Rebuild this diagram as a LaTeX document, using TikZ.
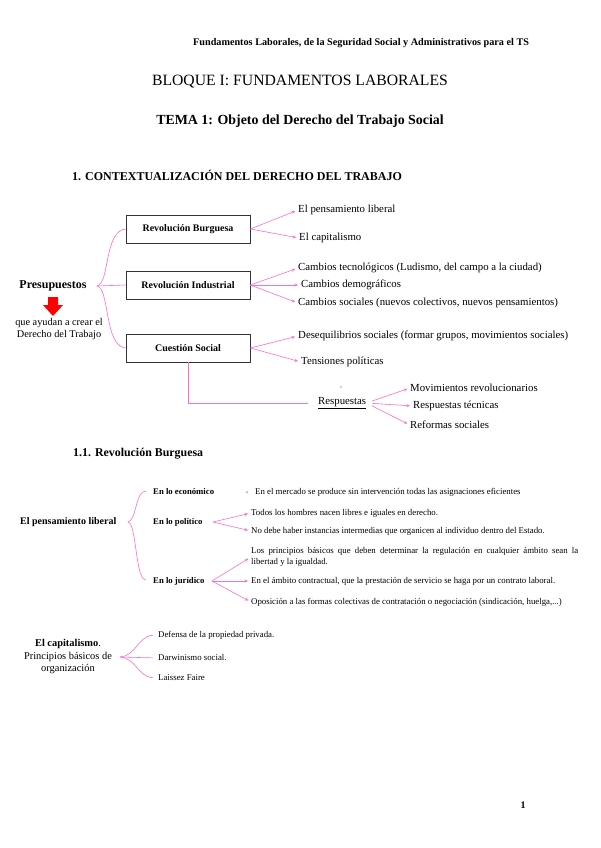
\documentclass[tikz,border=0pt]{standalone}
\usepackage{fontspec}
\setmainfont{Liberation Serif}
\usetikzlibrary{arrows.meta}
\tikzset{>={Stealth[length=3.5pt,width=3pt]}}
\usepackage{xcolor}
\definecolor{rosa}{RGB}{255,110,200}
\definecolor{rojo}{RGB}{255,0,0}
\tikzset{
  linea/.style={draw=rosa, line width=0.6pt},
  flecha/.style={linea, ->, shorten >=3pt},
  caja/.style={draw=black!80, line width=0.8pt, minimum width=124pt, minimum height=28pt,
    inner sep=0pt, font=\bfseries\fontsize{10}{12}\selectfont},
  txt/.style={anchor=west, inner sep=0pt, font=\fontsize{10.8}{12}\selectfont},
  peq/.style={anchor=west, inner sep=0pt, font=\fontsize{8.8}{10.5}\selectfont},
  peqb/.style={anchor=west, inner sep=0pt, font=\bfseries\fontsize{8.7}{10}\selectfont},
}

\begin{document}
\begin{tikzpicture}[x=1pt,y=-1pt]
  \fill[white] (0,0) rectangle (600,848);
  \useasboundingbox (0,0) rectangle (600,848);

  % titulos
  \node[anchor=west, inner sep=0pt, font=\bfseries\fontsize{10.2}{11}\selectfont] (cabecera) at (193,43)
    {Fundamentos Laborales, de la Seguridad Social y Administrativos para el TS};
  \node[inner sep=0pt, font=\fontsize{15.7}{18}\selectfont] (bloque) at (300,82) {BLOQUE I: FUNDAMENTOS LABORALES};
  \node[inner sep=0pt, font=\bfseries\fontsize{13.9}{16}\selectfont] (tema) at (300,121)
    {TEMA 1: Objeto del Derecho del Trabajo Social};
  \node[anchor=west, inner sep=0pt, font=\bfseries\fontsize{12}{14}\selectfont] (sec1) at (72,175)
    {1. CONTEXTUALIZACIÓN DEL DERECHO DEL TRABAJO};

  % presupuestos
  \node[inner sep=0pt, font=\bfseries\fontsize{12}{14}\selectfont] (presupuestos) at (53,286) {Presupuestos};
  \fill[rojo] (48,297) -- (58,297) -- (58,305) -- (63,305) -- (53,316) -- (43,305) -- (48,305) -- cycle;
  \node[align=center, inner sep=0pt, font=\fontsize{10.3}{12}\selectfont] (ayudan) at (59,329)
    {que ayudan a crear el\\Derecho del Trabajo};

  % cajas
  \node[caja] (burguesa) at (188,229) {Revolución Burguesa};
  \node[caja] (industrial) at (188,285) {Revolución Industrial};
  \node[caja] (cuestion) at (188,348) {Cuestión Social};

  % llave de presupuestos
  \coordinate (llave1) at (97,286);
  \draw[linea] (llave1) .. controls (110,283) and (104,231) .. (burguesa.west);
  \draw[linea] (llave1) -- (industrial.west);
  \draw[linea] (llave1) .. controls (110,289) and (104,346) .. (cuestion.west);

  % ramas de las cajas
  \node[txt] (liberal) at (298,210) {El pensamiento liberal};
  \node[txt] (capitalismo) at (299,238) {El capitalismo};
  \node[txt] (tecnologicos) at (298,268) {Cambios tecnológicos (Ludismo, del campo a la ciudad)};
  \node[txt] (demograficos) at (301,285) {Cambios demográficos};
  \node[txt] (sociales) at (298,303) {Cambios sociales (nuevos colectivos, nuevos pensamientos)};
  \node[txt] (desequilibrios) at (298,336) {Desequilibrios sociales (formar grupos, movimientos sociales)};
  \node[txt] (tensiones) at (301,362) {Tensiones políticas};

  \draw[flecha] (burguesa.east) -- (liberal.west);
  \draw[flecha] (burguesa.east) -- (capitalismo.west);
  \draw[flecha] (industrial.east) -- (tecnologicos.west);
  \draw[flecha] (industrial.east) -- (demograficos.west);
  \draw[flecha] (industrial.east) -- (sociales.west);
  \draw[flecha] (cuestion.east) -- (desequilibrios.west);
  \draw[flecha] (cuestion.east) -- (tensiones.west);

  % respuestas
  \node[txt] (respuestas) at (318,403) {\underline{Respuestas}};
  \draw[linea, shorten >=10pt] (cuestion.south) |- (respuestas.west);
  \fill[rosa] (341,387) circle (0.8pt);
  \node[txt] (movimientos) at (410,388) {Movimientos revolucionarios};
  \node[txt] (tecnicas) at (413,406) {Respuestas técnicas};
  \node[txt] (reformas) at (410,425) {Reformas sociales};
  \draw[flecha, shorten <=6pt] (respuestas.east) -- (movimientos.west);
  \draw[flecha, shorten <=6pt] (respuestas.east) -- (tecnicas.west);
  \draw[flecha, shorten <=6pt] (respuestas.east) -- (reformas.west);

  % 1.1
  \node[anchor=west, inner sep=0pt, font=\bfseries\fontsize{11.9}{13}\selectfont] (sec11) at (73,454)
    {1.1. Revolución Burguesa};

  % pensamiento liberal
  \node[anchor=west, inner sep=0pt, font=\bfseries\fontsize{10}{11}\selectfont] (pensamiento) at (20,522)
    {El pensamiento liberal};
  \node[peqb] (economico) at (153,492) {En lo económico};
  \node[peqb] (politico) at (153,522) {En lo político};
  \node[peqb] (juridico) at (153,581) {En lo jurídico};
  \coordinate (llave2) at (128,522);
  \coordinate (llave2a) at (146,491);
  \coordinate (llave2b) at (146,580);
  \draw[linea] (llave2a) .. controls (135,491) and (137,520) .. (llave2)
    .. controls (137,524) and (135,580) .. (llave2b);

  \node[peq] (mercado) at (255,492)
    {En el mercado se produce sin intervención todas las asignaciones eficientes};
  \fill[rosa] ([xshift=-8pt]mercado.west) circle (1pt);

  \coordinate (ramapol) at (213,522);
  \node[peq] (todos) at (251,513) {Todos los hombres nacen libres e iguales en derecho.};
  \node[peq] (instancias) at (251,531)
    {No debe haber instancias intermedias que organicen al individuo dentro del Estado.};
  \draw[flecha] (ramapol) -- (todos.west);
  \draw[flecha] (ramapol) -- (instancias.west);

  \coordinate (ramajur) at (212,581);
  \node[peq, text width=327pt, align=justify] (principios) at (251,557)
    {Los principios básicos que deben determinar la regulación en cualquier ámbito sean la\linebreak libertad y la igualdad.};
  \node[peq] (contractual) at (251,581)
    {En el ámbito contractual, que la prestación de servicio se haga por un contrato laboral.};
  \node[peq] (oposicion) at (251,602)
    {Oposición a las formas colectivas de contratación o negociación (sindicación, huelga,...)};
  \draw[flecha] (ramajur) -- (principios.west);
  \draw[flecha] (ramajur) -- (contractual.west);
  \draw[flecha] (ramajur) -- (oposicion.west);

  % capitalismo
  \node[align=center, inner sep=0pt, font=\fontsize{10.4}{12.5}\selectfont] (capital) at (68,657)
    {\textbf{El capitalismo}.\\Principios básicos de\\organización};
  \coordinate (llave3) at (120,657);
  \node[peq] (defensa) at (158,635) {Defensa de la propiedad privada.};
  \node[peq] (darwinismo) at (158,658) {Darwinismo social.};
  \node[peq] (laissez) at (158,678) {Laissez Faire};
  \draw[linea, shorten >=5pt] (llave3) .. controls (136,656) and (138,636) .. (defensa.west);
  \draw[linea, shorten >=5pt] (llave3) -- (darwinismo.west);
  \draw[linea, shorten >=5pt] (llave3) .. controls (136,658) and (138,677) .. (laissez.west);

  % numero de pagina
  \node[inner sep=0pt, font=\bfseries\fontsize{10}{12}\selectfont] (pagina) at (523,805) {1};
\end{tikzpicture}
\end{document}
